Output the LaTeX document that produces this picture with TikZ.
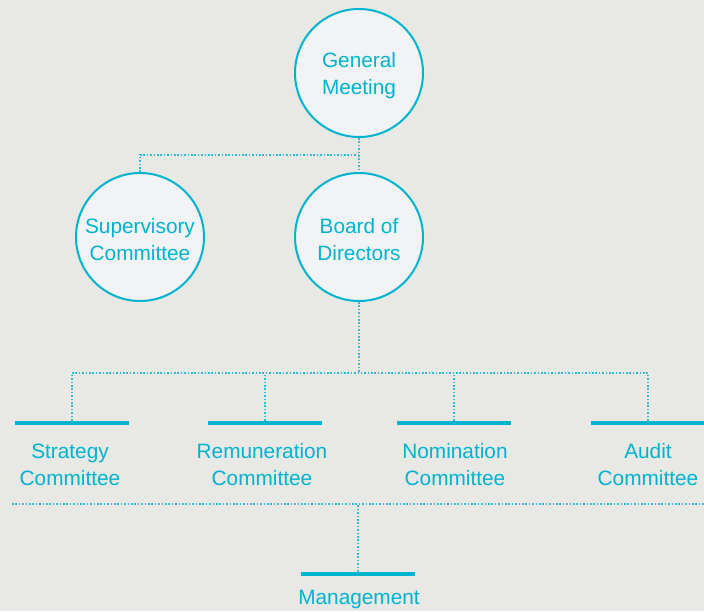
\documentclass[tikz,border=0pt]{standalone}
\usepackage{fontspec}
\setmainfont{Liberation Sans}
\definecolor{bg}{HTML}{E8E8E4}
\definecolor{cy}{HTML}{00B4D0}
\definecolor{cyl}{HTML}{30BCD4}
\definecolor{cfill}{HTML}{F2F3F5}
\begin{document}
\begin{tikzpicture}[x=1pt,y=1pt,
  circ/.style={circle,draw=cy,line width=2pt,fill=cfill,minimum size=128pt,inner sep=0pt},
  bar/.style={fill=cy,minimum width=114pt,minimum height=4.5pt,inner sep=0pt},
  lbl/.style={text=cy,font=\fontsize{20.8}{27}\selectfont,align=center,inner sep=0pt},
  dot/.style={draw=cyl,line width=1.6pt,dash pattern=on 1.6pt off 1.8pt}]
\fill[bg] (0,0) rectangle (704,-611);
\useasboundingbox (0,0) rectangle (704,-611);
\node[circ] (gm) at (359,-73) {};
\node[circ] (sup) at (140,-237) {};
\node[circ] (board) at (359,-237) {};
\node[lbl] (gmt) at (359,-76) {General\\Meeting};
\node[lbl] (supt) at (140,-240) {Supervisory\\Committee};
\node[lbl] (boardt) at (359,-240) {Board of\\Directors};
\coordinate (t1) at (359,-155);
\draw[dot] (gm.south) -- (board.north);
\draw[dot] (sup.north) |- (t1);
% committees
\node[bar] (strat) at (72,-423) {};
\node[bar] (rem) at (265,-423) {};
\node[bar] (nom) at (454,-423) {};
\node[bar] (aud) at (648,-423) {};
\node[lbl] (stratl) at (70,-465) {Strategy\\Committee};
\node[lbl] (reml) at (262,-465) {Remuneration\\Committee};
\node[lbl] (noml) at (455,-465) {Nomination\\Committee};
\node[lbl] (audl) at (648,-465) {Audit\\Committee};
\coordinate (hb) at (359,-373);
\draw[dot] (board.south) -- (hb);
\draw[dot] (strat.north) |- (hb);
\draw[dot] (aud.north) |- (hb);
\draw[dot] (rem.north) -- (rem.north |- hb);
\draw[dot] (nom.north) -- (nom.north |- hb);
% management
\coordinate (ml) at (12,-504);
\coordinate (mr) at (704,-504);
\node[bar] (mgmt) at (358,-574) {};
\node[lbl] (mgmtl) at (359,-599) {Management};
\draw[dot] (ml) -- (mr);
\draw[dot] (mgmt.north) -- (mgmt.north |- ml);
\end{tikzpicture}
\end{document}
